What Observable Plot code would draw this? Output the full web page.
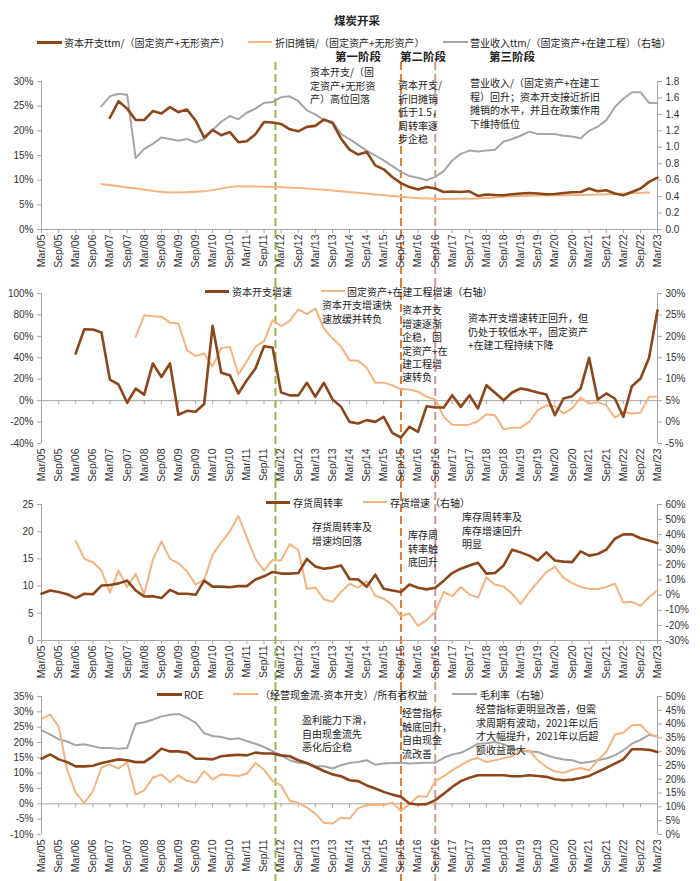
<!DOCTYPE html>
<html><head><meta charset="utf-8">
<script src="https://cdn.jsdelivr.net/npm/d3@7"></script>
<script src="https://cdn.jsdelivr.net/npm/@observablehq/plot@0.6"></script>
<style>
body{margin:0;background:#fff;font-family:"Liberation Sans","Noto Sans CJK SC",sans-serif;color:#262626}
#wrap{position:relative;width:700px;height:881px;overflow:hidden;background:#fff}
.abs{position:absolute;white-space:pre;font-size:10px;line-height:13.4px;font-family:"Noto Sans CJK SC",sans-serif;color:#222}
.bold{font-weight:bold;font-size:11.5px}
.sw{position:absolute;height:0}
.panel{position:absolute;left:0}
</style></head>
<body><div id="wrap"></div>
<script>
// ---------- data ----------
const tickLabels = d3.range(37).map(i => new Date(Date.UTC(2005 + Math.floor(i / 2), i % 2 ? 8 : 2, 1)));
const phases = [
  {name: "第一阶段", date: "2012-01", color: "#8fba45"},
  {name: "第二阶段", date: "2015-09", color: "#e07a35"},
  {name: "第三阶段", date: "2016-09", color: "#d8958f"}
];
// Panel 1 (quarterly from start; dep. annual)
const capexRatioStart = "2007-03";
const capexRatio = [22.65,26.0,24.5,22.2,22.2,24.0,23.5,24.8,23.8,24.3,22.1,18.6,20.2,19.1,19.75,17.7,17.9,19.3,21.8,21.7,21.4,20.3,19.9,20.8,21.0,22.3,21.6,18.4,16.2,15.2,15.7,13.0,12.2,10.65,9.4,8.6,8.1,8.6,8.3,7.6,7.7,7.6,7.75,6.8,7.1,7.0,6.95,7.15,7.3,7.4,7.3,7.15,7.2,7.4,7.55,7.6,8.3,7.75,7.95,7.3,6.95,7.6,8.3,9.65,10.5];
const deprRatioStart = "2006-12";
const deprRatio = [9.2,8.3,7.5,7.75,8.75,8.6,8.3,7.75,7.1,6.5,6.2,6.3,6.75,6.9,7.0,7.2,7.5];
const revRatioStart = "2006-12";
const revRatio = [1.50,1.62,1.65,1.64,0.87,0.98,1.04,1.12,1.10,1.08,1.10,1.06,1.10,1.21,1.31,1.38,1.34,1.42,1.47,1.54,1.55,1.61,1.62,1.56,1.45,1.40,1.33,1.31,1.16,1.10,1.03,0.96,0.90,0.84,0.77,0.70,0.65,0.63,0.60,0.64,0.71,0.84,0.92,0.96,0.95,0.96,0.97,1.07,1.10,1.14,1.19,1.16,1.16,1.16,1.14,1.13,1.11,1.20,1.25,1.33,1.49,1.59,1.67,1.67,1.54,1.54];
// Panel 2
const capexGrowthStart = "2006-03";
const capexGrowth = [44,66.7,66.4,63.6,19.7,15.1,-2,11.2,5.6,34.7,22.1,34.7,-13.2,-9.5,-10.4,-3.2,69.8,26,23.8,6.7,19.1,30,50.8,49.6,7.7,4.9,4.9,16.7,3.6,16.7,1.2,-5.8,-19.8,-21.3,-18.2,-19.8,-15.1,-30,-34.4,-24.4,-29.1,-5.2,-6.4,-6.4,5.1,-5.8,5.1,-7.3,14.4,7.3,0.4,7.6,11.3,9.8,7.6,5.8,-13.6,2,4.2,11.3,40,1.1,6.7,2,-15.1,13.5,20.7,40,84.4];
const assetGrowthStart = "2007-12";
const assetGrowth = [19.9,24.9,24.7,24.6,23.2,23.0,16.8,15.4,16.0,13.0,17.2,17.6,11.1,14.2,17.6,18.9,23.8,22.4,23.6,26.3,25.2,26.5,21.8,19.5,17.6,14.4,14.3,12.7,9.2,9.2,8.6,7.7,7.6,7.1,5.9,5.3,1.2,-0.6,-0.7,-0.6,0.2,1.8,1.6,-1.7,-1.3,-1.3,0.05,2.8,3.9,3.7,2.0,3.2,5.7,4.3,4.7,3.9,1.0,2.4,2.0,2.2,5.9,5.9];
// Panel 3
const invTurnStart = "2005-03";
const invTurn = [8.6,9.2,8.9,8.5,7.8,8.6,8.5,10.1,10.2,10.5,11.0,9.2,8.1,8.15,7.8,9.3,8.6,8.6,8.4,11.0,9.9,9.9,9.8,10.0,10.0,11.2,11.8,12.6,12.3,12.3,12.4,15.0,13.6,13.2,13.4,13.8,11.3,11.2,9.9,12.1,9.5,9.2,8.9,10.3,9.7,9.4,9.7,11.0,12.4,13.2,13.8,14.3,12.3,12.4,13.8,16.7,16.2,15.6,14.7,16.2,14.7,14.5,14.4,16.4,15.6,15.9,16.7,18.7,19.5,19.5,18.8,18.4,17.9];
const invGrowthStart = "2006-03";
const invGrowth = [36,24,21.8,16.3,1.7,16.3,5.4,14.1,0.6,23.5,35.5,24,21.1,15.9,7.1,10.2,26.8,34.9,42.1,52.4,38.2,24,16.3,23.3,22.9,33.8,29.9,4.3,5.0,-2.7,-4.4,2.1,7.6,5.0,9.3,-0.4,-2.3,-6.6,-13.8,-12.1,-20.4,-16.5,-11,2.1,-0.7,5.4,0.4,-1.6,11.9,6.9,5.8,1.0,-6,2.1,8.7,15.2,18.9,11.5,8.0,5.4,4.3,3.9,5.4,7.6,-4.9,-4.4,-7.1,-1.2,3.2];
// Panel 4
const roeStart = "2005-03";
const roe = [14.7,16.1,14.5,13.6,12.2,12.2,12.4,13.3,13.9,14.5,14.2,13.6,13.6,15.5,18.0,17.1,17.1,16.7,14.7,14.7,14.5,15.5,15.8,16.0,15.8,16.7,16.4,16.4,15.8,15.5,14.2,13.3,12.0,10.7,9.6,9.0,7.7,7.4,6.0,5.0,3.9,3.0,2.3,0.1,-0.2,-0.1,1.2,3.3,5.5,7.4,8.5,9.3,9.3,9.3,9.3,9.0,9.0,9.3,9.1,8.8,8.0,7.7,7.9,8.4,9.1,10.4,11.7,13.1,14.5,17.8,17.8,17.6,16.9];
const fcfEqStart = "2005-03";
const fcfEq = [27.7,29.1,25.2,10.9,3.6,0.3,4.1,11.8,12.9,11.5,13.6,3.0,4.4,8.5,9.6,7.1,9.3,7.5,6.9,10.7,7.9,9.6,9.3,9.1,9.8,13.3,11.1,7.5,6.0,1.0,0.3,-1.2,-3.2,-6.2,-6.4,-4.5,-4.8,-1.5,-0.4,-0.4,-0.4,0.4,-2.3,-0.1,2.5,2.3,7.4,9.0,10.9,12.6,14.2,15.0,13.6,14.2,14.9,15.5,17.4,17.4,14.2,12.0,10.6,10.1,11.1,11.7,10.9,14.2,16.9,22.6,23.2,25.6,25.8,22.9,21.8];
const grossMarginStart = "2005-03";
const grossMargin = [37.7,36.3,34.5,33.7,32.3,32.7,32.0,31.3,31.3,31.1,31.3,40.1,40.7,41.6,42.8,43.4,43.7,42.3,40.5,36.7,35.7,35.3,34.5,34.9,33.9,32.9,31.7,30.2,28.7,26.9,26.0,25.7,24.7,24.7,23.9,25.1,25.9,26.3,26.9,25.3,25.7,25.9,26.0,25.7,25.9,26.0,26.0,27.8,29.0,29.6,31.1,32.9,33.1,33.5,32.7,31.3,30.2,30.1,29.9,28.7,27.8,27.2,26.9,25.9,26.3,26.9,27.5,28.7,30.5,32.9,34.3,36.1,35.5];

// ---------- helpers ----------
const BROWN = "#8c461a", ORANGE = "#f6b380", GRAY = "#a6a6a6", AX = "#a6a6a6", TXT = "#333";
function ym(s) { const [y, m] = s.split("-").map(Number); return new Date(Date.UTC(y, m - 1, 1)); }
function series(start, values, step = 3) {
  const d0 = ym(start);
  return values.map((v, i) => ({date: new Date(Date.UTC(d0.getUTCFullYear(), d0.getUTCMonth() + step * i, 1)), v}));
}
const X0 = tickLabels[0], X1 = tickLabels[tickLabels.length - 1];
const fmtDate = d3.utcFormat("%b/%y");
const wrap = document.getElementById("wrap");

function panel(cfg) {
  const {top, height, mt, mb, yDomain, yTicks, yFmt, rTicks, toL, toR, rFmt, lines, axisAt, ruleTop} = cfg;
  const marks = [
    Plot.ruleX([X0, X1], {x: d => d, stroke: AX, strokeWidth: 1}),
    Plot.ruleY([axisAt], {y: d => d, stroke: AX, strokeWidth: 1}),
    Plot.ruleX(tickLabels, {x: d => d, y1: () => axisAt, y2: () => axisAt, insetBottom: -4, stroke: AX}),
    ...phases.map(p => Plot.ruleX([ym(p.date)], {x: d => d, stroke: p.color, strokeWidth: 2, strokeDasharray: "8,4", insetTop: -(mt - ruleTop), insetBottom: -mb})),
    ...lines.map(l => Plot.line(l.data, {x: "date", y: l.right ? (d => toL(d.v)) : "v", stroke: l.color, strokeWidth: l.width, curve: l.curve || "linear", strokeLinejoin: "round"})),
    Plot.axisY(yTicks, {anchor: "left", label: null, tickSize: 4, tickPadding: 4, tickFormat: yFmt, fontSize: 10, stroke: AX, color: TXT}),
    Plot.axisY(rTicks.map(toL), {anchor: "right", label: null, tickSize: 4, tickPadding: 4, tickFormat: d => rFmt(toR(d)), fontSize: 10, stroke: AX, color: TXT}),
    Plot.axisX(tickLabels, {anchor: "bottom", label: null, tickSize: 0, tickPadding: 5, tickRotate: -90, textAnchor: "end", tickFormat: fmtDate, fontSize: 10.5, color: TXT})
  ];
  const svg = Plot.plot({
    width: 700, height, marginLeft: 41, marginRight: 43, marginTop: mt, marginBottom: mb,
    x: {type: "utc", domain: [X0, X1], label: null},
    y: {domain: yDomain, label: null},
    style: {background: "transparent", overflow: "visible", fontFamily: "Liberation Sans, Arial, sans-serif", color: TXT},
    marks
  });
  svg.classList.add("panel");
  svg.style.top = top + "px";
  svg.style.position = "absolute";
  wrap.appendChild(svg);
}
const pct = v => Math.round(v) + "%";

// Panel 1
panel({top: 60, height: 220, mt: 21, mb: 51, yDomain: [0, 30], yTicks: d3.range(0, 31, 5), yFmt: pct,
  rTicks: d3.range(0, 1.81, 0.2), toL: r => r * 30 / 1.8, toR: l => l * 1.8 / 30, rFmt: v => (Math.round(v * 10) / 10).toFixed(1),
  axisAt: 0, ruleTop: 2,
  lines: [
    {data: series(revRatioStart, revRatio), color: GRAY, width: 2, right: true},
    {data: series(deprRatioStart, deprRatio, 12), color: ORANGE, width: 2, curve: "monotone-x"},
    {data: series(capexRatioStart, capexRatio), color: BROWN, width: 2.6}
  ]});
// Panel 2
panel({top: 280, height: 200, mt: 13, mb: 37, yDomain: [-40, 100], yTicks: d3.range(-40, 101, 20), yFmt: pct,
  rTicks: d3.range(-5, 31, 5), toL: r => 4 * r - 20, toR: l => (l + 20) / 4, rFmt: pct,
  axisAt: 0, ruleTop: 0,
  lines: [
    {data: series(assetGrowthStart, assetGrowth), color: ORANGE, width: 2, right: true},
    {data: series(capexGrowthStart, capexGrowth), color: BROWN, width: 2.6}
  ]});
// Panel 3
panel({top: 480, height: 202, mt: 24, mb: 42, yDomain: [0, 25], yTicks: d3.range(0, 26, 5), yFmt: d => String(d),
  rTicks: d3.range(-30, 61, 10), toL: r => (r + 30) * 25 / 90, toR: l => l * 90 / 25 - 30, rFmt: pct,
  axisAt: 0, ruleTop: 0,
  lines: [
    {data: series(invGrowthStart, invGrowth), color: ORANGE, width: 2, right: true},
    {data: series(invTurnStart, invTurn), color: BROWN, width: 2.6}
  ]});
// Panel 4
panel({top: 682, height: 199, mt: 14, mb: 47, yDomain: [-10, 35], yTicks: d3.range(-10, 36, 5), yFmt: pct,
  rTicks: d3.range(0, 51, 5), toL: r => -10 + 0.9 * r, toR: l => (l + 10) / 0.9, rFmt: pct,
  axisAt: 0, ruleTop: 0,
  lines: [
    {data: series(grossMarginStart, grossMargin), color: GRAY, width: 2, right: true},
    {data: series(fcfEqStart, fcfEq), color: ORANGE, width: 2},
    {data: series(roeStart, roe), color: BROWN, width: 2.6}
  ]});

// ---------- HTML text: title, legends, phase labels, notes ----------
function txt(s, x, yc, cls = "", lh = 13.4) {
  const d = document.createElement("div");
  d.className = "abs " + cls;
  d.textContent = s;
  d.style.left = x + "px";
  d.style.top = (yc - lh / 2) + "px";
  d.style.lineHeight = lh + "px";
  wrap.appendChild(d);
  return d;
}
function swatch(x1, x2, y, color, w) {
  const d = document.createElement("div");
  d.className = "sw";
  d.style.left = x1 + "px"; d.style.width = (x2 - x1) + "px";
  d.style.top = (y - w / 2) + "px"; d.style.borderTop = w + "px solid " + color;
  wrap.appendChild(d);
}
const title = txt("煤炭开采", 0, 20, "bold", 13);
title.style.width = "714px"; title.style.textAlign = "center";

const legends = [
  [[37, 62, 42, BROWN, 3, "资本开支ttm/（固定资产+无形资产）", 64],
   [248, 272, 42, ORANGE, 2, "折旧摊销/（固定资产+无形资产）", 275],
   [443, 468, 42, GRAY, 2, "营业收入ttm/（固定资产+在建工程）（右轴）", 470]],
  [[205, 229, 291, BROWN, 3, "资本开支增速", 232],
   [321, 345, 291, ORANGE, 2, "固定资产+在建工程增速（右轴）", 347]],
  [[266, 290, 502, BROWN, 3, "存货周转率", 293],
   [363, 387, 502, ORANGE, 2, "存货增速（右轴）", 390]],
  [[157, 182, 694, BROWN, 3, "ROE", 184],
   [233, 258, 694, ORANGE, 2, "（经营现金流-资本开支）/所有者权益", 260],
   [452, 477, 694, GRAY, 2, "毛利率（右轴）", 480]]
];
legends.flat().forEach(([a, b, y, c, w, s, tx]) => { swatch(a, b, y, c, w); txt(s, tx, y, "", 11); });

phases.forEach((p, i) => txt(p.name, [335, 400, 489][i], 56, "bold", 12));

const notes = [
  ["资本开支/（固\n定资产+无形资\n产）高位回落", 310, 72],
  ["资本开支/\n折旧摊销\n低于1.5，\n周转率逐\n步企稳", 398, 85],
  ["营业收入/（固定资产+在建工\n程）回升；资本开支接近折旧\n摊销的水平，并且在政策作用\n下维持低位", 470, 83],
  ["资本开支增速快\n速放缓并转负", 322, 305],
  ["资本开支\n增速逐渐\n企稳，固\n定资产+在\n建工程增\n速转负", 402, 310],
  ["资本开支增速转正回升，但\n仍处于较低水平，固定资产\n+在建工程持续下降", 468, 318],
  ["存货周转率及\n增速均回落", 312, 527],
  ["库存周\n转率触\n底回升", 408, 535],
  ["库存周转率及\n库存增速回升\n明显", 462, 517],
  ["盈利能力下滑，\n自由现金流先\n恶化后企稳", 302, 720],
  ["经营指标\n触底回升，\n自由现金\n流改善", 402, 713],
  ["经营指标更明显改善，但需\n求周期有波动，2021年以后\n才大幅提升，2021年以后超\n额收益最大", 476, 709]
];
notes.forEach(([s, x, y]) => txt(s, x, y));
</script></body></html>
